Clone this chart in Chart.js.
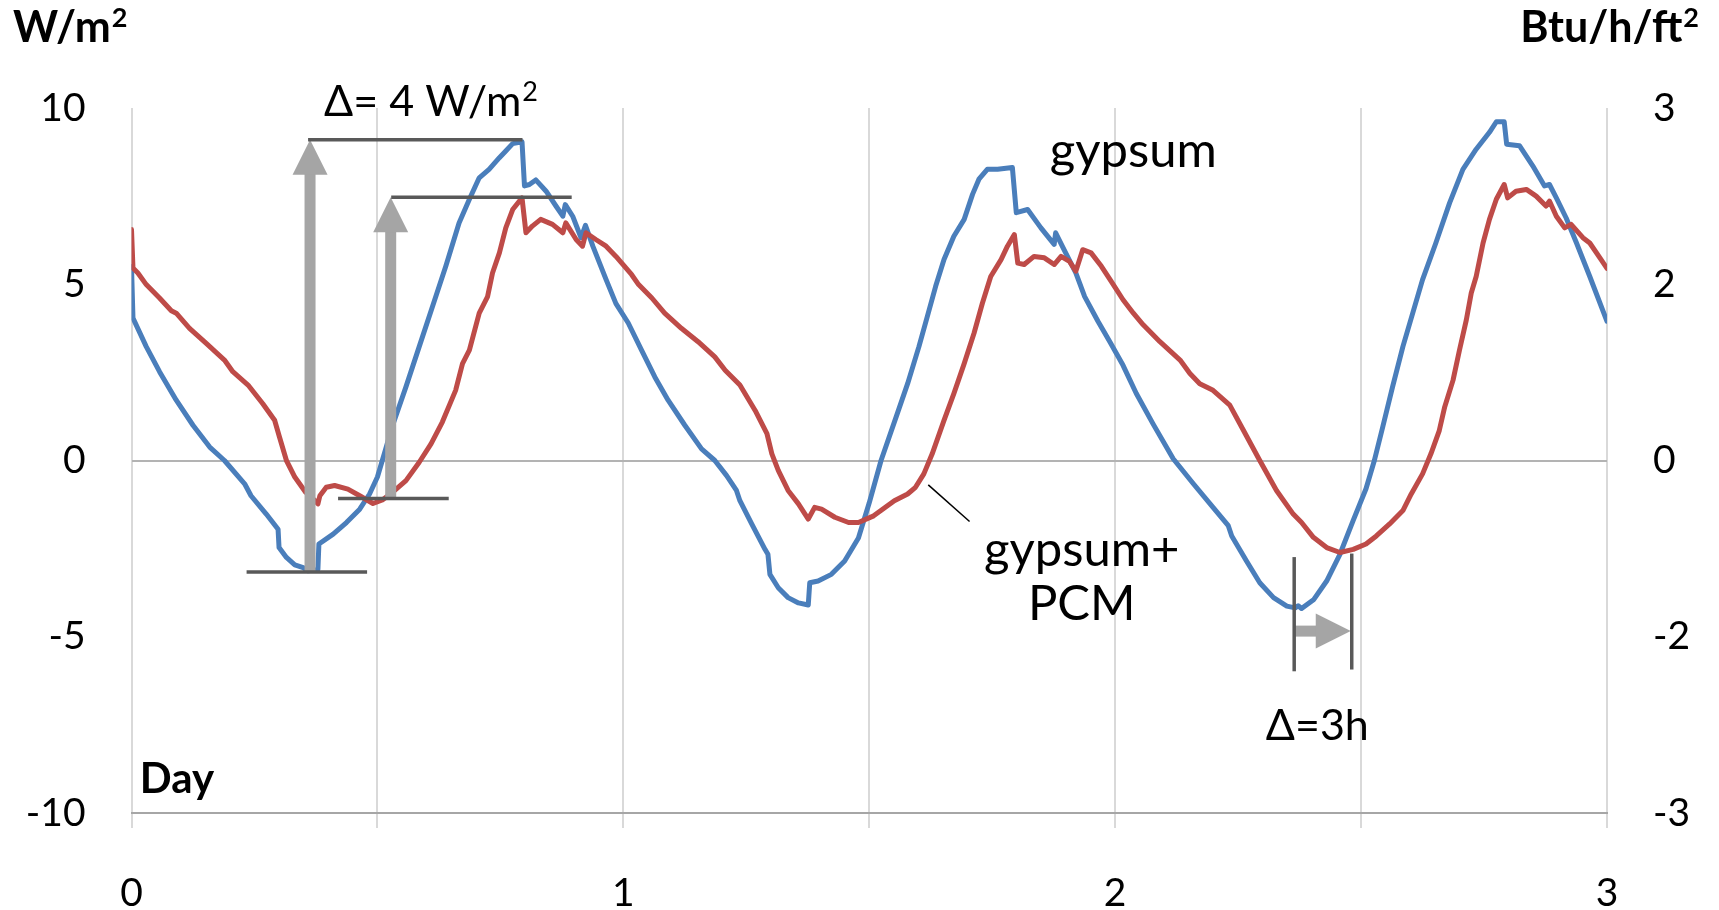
<!DOCTYPE html>
<html lang="en">
  <head>
    <meta charset="UTF-8" />
    <title>Heat flux: gypsum vs gypsum+PCM</title>
    <script src="https://cdn.jsdelivr.net/npm/chart.js"></script>
    <style>
      html, body { margin: 0; padding: 0; background: #fff; }
      #wrap { width: 1719px; height: 910px; position: relative; }
    </style>
  </head>
  <body>
    <div id="wrap"><canvas id="fluxChart"></canvas></div>
    <script>
      // gypsum board (blue)
      const gypsumDay = [0, 0.003, 0.03, 0.057, 0.091, 0.125, 0.159, 0.189, 0.23, 0.243, 0.274, 0.298, 0.3, 0.315, 0.332, 0.349, 0.359, 0.379, 0.381, 0.41, 0.437, 0.464, 0.484, 0.5, 0.514, 0.531, 0.558, 0.585, 0.612, 0.639, 0.666, 0.687, 0.707, 0.727, 0.748, 0.761, 0.775, 0.794, 0.799, 0.809, 0.822, 0.843, 0.863, 0.877, 0.882, 0.897, 0.914, 0.923, 0.938, 0.965, 0.985, 1.01, 1.037, 1.064, 1.091, 1.125, 1.159, 1.186, 1.21, 1.23, 1.237, 1.261, 1.288, 1.294, 1.298, 1.315, 1.335, 1.356, 1.376, 1.379, 1.396, 1.423, 1.45, 1.478, 1.5, 1.524, 1.557, 1.578, 1.601, 1.618, 1.635, 1.652, 1.672, 1.693, 1.71, 1.723, 1.74, 1.761, 1.791, 1.799, 1.822, 1.849, 1.876, 1.879, 1.896, 1.92, 1.938, 1.965, 1.99, 2.016, 2.043, 2.077, 2.118, 2.159, 2.199, 2.23, 2.237, 2.267, 2.294, 2.322, 2.349, 2.366, 2.372, 2.379, 2.404, 2.43, 2.457, 2.484, 2.51, 2.527, 2.544, 2.564, 2.585, 2.605, 2.625, 2.652, 2.68, 2.707, 2.734, 2.761, 2.775, 2.791, 2.796, 2.822, 2.849, 2.873, 2.883, 2.897, 2.917, 2.938, 2.965, 2.991, 3.0];
      const gypsumFlux = [5.5, 4.04, 3.23, 2.52, 1.71, 1.0, 0.38, 0.0, -0.66, -1.0, -1.52, -1.95, -2.47, -2.75, -2.96, -3.04, -3.13, -3.09, -2.37, -2.09, -1.76, -1.38, -0.95, -0.47, 0.19, 1.0, 2.09, 3.23, 4.37, 5.51, 6.74, 7.41, 8.02, 8.26, 8.59, 8.78, 8.99, 9.04, 7.79, 7.83, 7.96, 7.64, 7.22, 6.93, 7.26, 6.93, 6.32, 6.67, 6.08, 5.13, 4.45, 3.9, 3.13, 2.37, 1.71, 1.0, 0.33, 0.0, -0.43, -0.85, -1.14, -1.8, -2.52, -2.66, -3.23, -3.61, -3.89, -4.04, -4.1, -3.47, -3.42, -3.23, -2.85, -2.2, -1.2, 0.0, 1.33, 2.18, 3.23, 4.08, 4.94, 5.7, 6.36, 6.84, 7.55, 7.98, 8.26, 8.26, 8.31, 7.03, 7.12, 6.6, 6.13, 6.46, 5.98, 5.32, 4.65, 3.95, 3.35, 2.7, 1.9, 1.04, 0.05, -0.66, -1.33, -1.85, -2.14, -2.85, -3.47, -3.89, -4.13, -4.18, -4.12, -4.2, -3.94, -3.42, -2.66, -1.7, -0.8, 0.0, 0.95, 2.09, 3.23, 4.18, 5.13, 6.17, 7.31, 8.26, 8.83, 9.31, 9.61, 9.61, 8.97, 8.93, 8.36, 7.79, 7.83, 7.45, 6.88, 6.17, 5.22, 4.27, 3.95];

      // gypsum board with PCM (red)
      const pcmDay = [0, 0.003, 0.013, 0.03, 0.057, 0.081, 0.091, 0.118, 0.152, 0.189, 0.206, 0.237, 0.267, 0.291, 0.301, 0.315, 0.332, 0.354, 0.37, 0.379, 0.383, 0.396, 0.413, 0.44, 0.464, 0.491, 0.51, 0.531, 0.558, 0.585, 0.609, 0.632, 0.659, 0.673, 0.687, 0.707, 0.724, 0.734, 0.748, 0.761, 0.775, 0.794, 0.802, 0.815, 0.832, 0.856, 0.877, 0.883, 0.904, 0.917, 0.924, 0.944, 0.965, 0.985, 1.017, 1.031, 1.058, 1.084, 1.118, 1.152, 1.186, 1.207, 1.237, 1.268, 1.292, 1.302, 1.315, 1.335, 1.356, 1.376, 1.389, 1.403, 1.43, 1.458, 1.478, 1.509, 1.551, 1.578, 1.594, 1.611, 1.628, 1.652, 1.672, 1.693, 1.713, 1.73, 1.747, 1.768, 1.781, 1.795, 1.802, 1.815, 1.835, 1.856, 1.876, 1.89, 1.907, 1.92, 1.934, 1.951, 1.972, 1.991, 2.016, 2.037, 2.057, 2.091, 2.132, 2.152, 2.172, 2.199, 2.233, 2.261, 2.294, 2.328, 2.362, 2.379, 2.403, 2.43, 2.457, 2.484, 2.51, 2.531, 2.558, 2.585, 2.602, 2.625, 2.642, 2.659, 2.67, 2.687, 2.7, 2.714, 2.724, 2.734, 2.748, 2.761, 2.775, 2.791, 2.798, 2.815, 2.836, 2.856, 2.876, 2.883, 2.897, 2.914, 2.927, 2.951, 2.965, 2.988, 3.0];
      const pcmFlux = [6.55, 5.46, 5.32, 4.99, 4.61, 4.25, 4.18, 3.75, 3.32, 2.85, 2.52, 2.14, 1.61, 1.14, 0.66, 0.0, -0.47, -0.9, -1.1, -1.23, -1.0, -0.76, -0.71, -0.81, -1.0, -1.22, -1.12, -0.9, -0.57, -0.05, 0.47, 1.09, 1.99, 2.75, 3.13, 4.18, 4.65, 5.32, 5.89, 6.6, 7.12, 7.45, 6.46, 6.65, 6.84, 6.7, 6.46, 6.74, 6.27, 6.08, 6.46, 6.27, 6.08, 5.79, 5.27, 4.99, 4.61, 4.18, 3.75, 3.37, 2.94, 2.56, 2.14, 1.42, 0.76, 0.19, -0.28, -0.85, -1.23, -1.66, -1.33, -1.38, -1.61, -1.76, -1.76, -1.57, -1.14, -0.95, -0.76, -0.38, 0.19, 1.14, 1.9, 2.75, 3.61, 4.46, 5.22, 5.7, 6.08, 6.41, 5.6, 5.56, 5.79, 5.75, 5.56, 5.79, 5.65, 5.37, 5.98, 5.89, 5.51, 5.1, 4.56, 4.18, 3.85, 3.37, 2.85, 2.47, 2.18, 1.99, 1.57, 0.85, 0.0, -0.85, -1.52, -1.76, -2.18, -2.47, -2.61, -2.52, -2.37, -2.14, -1.8, -1.42, -0.95, -0.38, 0.19, 0.85, 1.52, 2.28, 3.13, 3.99, 4.75, 5.22, 6.17, 6.84, 7.41, 7.83, 7.45, 7.64, 7.69, 7.5, 7.22, 7.36, 6.93, 6.6, 6.7, 6.32, 6.17, 5.7, 5.45];

      const leftTicks = [-10, -5, 0, 5, 10];
      const rightTickLabels = ['-3', '-2', '0', '2', '3'];

      // annotations, in data units (day, W/m2)
      const peakLines = [
        { x0: 0.359, x1: 0.795, y: 9.1 },
        { x0: 0.528, x1: 0.895, y: 7.47 },
        { x0: 0.234, x1: 0.479, y: -3.16 },
        { x0: 0.42, x1: 0.645, y: -1.08 },
      ];
      const upArrows = [
        { x: 0.363, y0: -3.16, y1: 9.1 },
        { x: 0.527, y0: -1.08, y1: 7.47 },
      ];
      const lagLines = [
        { x: 2.364, y0: -2.74, y1: -5.98 },
        { x: 2.481, y0: -2.64, y1: -5.93 },
      ];
      const lagArrow = { x0: 2.366, x1: 2.479, y: -4.84 };
      const leader = { x0: 1.62, y0: -0.69, x1: 1.704, y1: -1.73 };
      const notes = [
        { text: "Δ= 4 W/m²", x: 0.609, y: 9.77, align: "center", kind: "delta" },
        { text: "gypsum", x: 1.867, y: 8.32, align: "left", kind: "label" },
        { text: "gypsum+", x: 1.932, y: -2.98, align: "center", kind: "label" },
        { text: "PCM", x: 1.932, y: -4.53, align: "center", kind: "label" },
        { text: "Δ=3h", x: 2.411, y: -7.92, align: "center", kind: "delta" },
      ];

      const FONT = "Lato, 'Open Sans', sans-serif";
      const NOTE_SIZE = { label: 49, delta: 43 };
      Chart.defaults.font.family = FONT;
      Chart.defaults.color = "#000";

      const toPoints = (xs, ys) => xs.map((d, i) => ({ x: d, y: ys[i] }));

      // text with a real superscript "2" (the ² glyph is tiny in Lato)
      function richText(ctx, text, x, y, size, weight, align) {
        const base = weight + " " + size + "px " + FONT;
        const sup = weight + " " + Math.round(size * 0.62) + "px " + FONT;
        const parts = text.split("²");
        ctx.font = base;
        let w = 0;
        parts.forEach((p, i) => {
          ctx.font = base;
          w += ctx.measureText(p).width;
          if (i < parts.length - 1) { ctx.font = sup; w += ctx.measureText("2").width + 1; }
        });
        let cx = align === "center" ? x - w / 2 : align === "right" ? x - w : x;
        ctx.textAlign = "left";
        parts.forEach((p, i) => {
          ctx.font = base;
          ctx.fillText(p, cx, y);
          cx += ctx.measureText(p).width;
          if (i < parts.length - 1) {
            ctx.font = sup;
            ctx.fillText("2", cx + 1, y - size * 0.36);
            cx += ctx.measureText("2").width + 1;
          }
        });
      }

      const overlay = {
        id: "overlay",
        afterDatasetsDraw(chart) {
          const { ctx, scales } = chart;
          const px = (v) => scales.x.getPixelForValue(v);
          const py = (v) => scales.y.getPixelForValue(v);
          const shaft = 11, head = 35;
          ctx.save();

          ctx.fillStyle = "#a5a5a5";
          upArrows.forEach((a) => {
            const cx = px(a.x), tip = py(a.y1), base = py(a.y0);
            ctx.fillRect(cx - shaft / 2, tip + head - 1, shaft, base - tip - head + 1);
            ctx.beginPath();
            ctx.moveTo(cx, tip);
            ctx.lineTo(cx - head / 2, tip + head);
            ctx.lineTo(cx + head / 2, tip + head);
            ctx.closePath();
            ctx.fill();
          });
          {
            const cy = py(lagArrow.y), start = px(lagArrow.x0), tip = px(lagArrow.x1);
            ctx.fillRect(start, cy - shaft / 2, tip - start - head + 1, shaft);
            ctx.beginPath();
            ctx.moveTo(tip, cy);
            ctx.lineTo(tip - head, cy - head / 2);
            ctx.lineTo(tip - head, cy + head / 2);
            ctx.closePath();
            ctx.fill();
          }

          ctx.strokeStyle = "#595959";
          ctx.lineWidth = 3.5;
          peakLines.forEach((l) => {
            ctx.beginPath();
            ctx.moveTo(px(l.x0), py(l.y));
            ctx.lineTo(px(l.x1), py(l.y));
            ctx.stroke();
          });
          lagLines.forEach((l) => {
            ctx.beginPath();
            ctx.moveTo(px(l.x), py(l.y0));
            ctx.lineTo(px(l.x), py(l.y1));
            ctx.stroke();
          });

          ctx.strokeStyle = "#000";
          ctx.lineWidth = 1.5;
          ctx.beginPath();
          ctx.moveTo(px(leader.x0), py(leader.y0));
          ctx.lineTo(px(leader.x1), py(leader.y1));
          ctx.stroke();

          ctx.fillStyle = "#000";
          ctx.textBaseline = "alphabetic";
          notes.forEach((n) => {
            richText(ctx, n.text, px(n.x), py(n.y), NOTE_SIZE[n.kind], "normal", n.align);
          });
          ctx.restore();
        },
        afterDraw(chart) {
          const { ctx, scales } = chart;
          ctx.save();
          ctx.fillStyle = "#000";
          ctx.textBaseline = "alphabetic";
          richText(ctx, "W/m²", 13, 42, 43, "bold", "left");
          richText(ctx, "Day", scales.x.getPixelForValue(0.017), scales.y.getPixelForValue(-9.44), 42, "bold", "left");
          richText(ctx, "Btu/h/ft²", 1699, 42, 43, "bold", "right");
          ctx.restore();
        },
      };

      new Chart(document.getElementById("fluxChart"), {
        type: "line",
        data: {
          datasets: [
            {
              label: "gypsum",
              data: toPoints(gypsumDay, gypsumFlux),
              borderColor: "#4a7ebb",
              borderWidth: 5,
              order: 2,
            },
            {
              label: "gypsum+PCM",
              data: toPoints(pcmDay, pcmFlux),
              borderColor: "#be4b48",
              borderWidth: 5,
              order: 1,
            },
          ],
        },
        options: {
          responsive: true,
          maintainAspectRatio: false,
          animation: false,
          layout: { padding: { top: 108, left: 0, right: 0, bottom: 0 } },
          elements: {
            point: { radius: 0 },
            line: { tension: 0, borderJoinStyle: "round", borderCapStyle: "round" },
          },
          plugins: { legend: { display: false }, tooltip: { enabled: false } },
          scales: {
            x: {
              type: "linear",
              min: 0,
              max: 3,
              ticks: {
                stepSize: 0.5,
                autoSkip: false,
                maxRotation: 0,
                padding: 42,
                font: { size: 39 },
                callback: (v) => (Number.isInteger(v) ? v : ""),
              },
              grid: { color: "#d9d9d9", lineWidth: 2, tickLength: 15 },
              border: { color: "#a6a6a6", width: 2 },
              afterFit: (s) => { s.height = 97; },
            },
            y: {
              position: "left",
              min: -10,
              max: 10,
              ticks: { stepSize: 5, padding: 46, font: { size: 39 } },
              grid: {
                drawTicks: false,
                lineWidth: 2,
                color: (c) => (c.tick && c.tick.value === 0 ? "#b3b3b3" : "rgba(0,0,0,0)"),
              },
              border: { display: false },
              afterFit: (s) => { s.width = 131.5; },
            },
            y2: {
              position: "right",
              min: -10,
              max: 10,
              ticks: {
                stepSize: 5,
                padding: 46,
                font: { size: 39 },
                callback: (v) => rightTickLabels[leftTicks.indexOf(v)],
              },
              grid: { display: false, drawTicks: false },
              border: { display: false },
              afterFit: (s) => { s.width = 112; },
            },
          },
        },
        plugins: [overlay],
      });
    </script>
  </body>
</html>
